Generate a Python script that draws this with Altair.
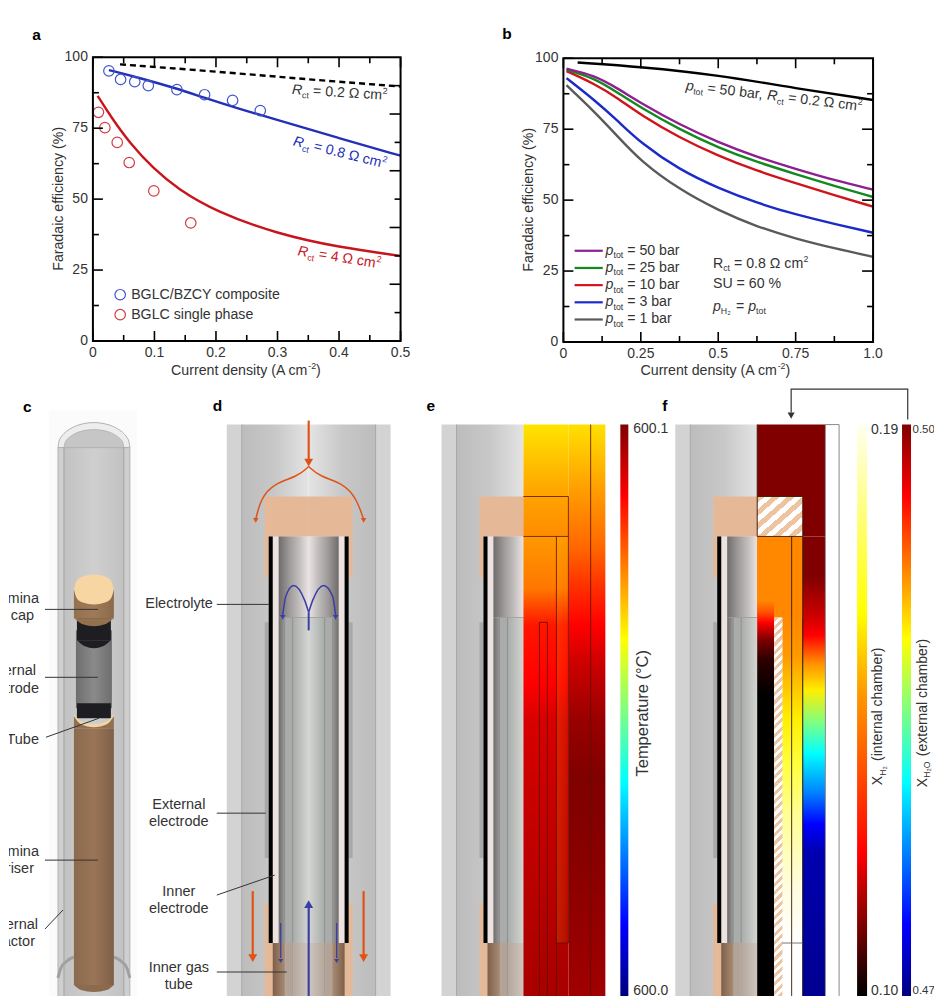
import math
import altair as alt
import pandas as pd

FONT = "Liberation Sans"
INK = "#333333"

# ---------- panel a ----------
a_blue_x = [.026, .045, .068, .090, .1365, .1815, .227, .272]
a_blue_y = [95.2, 92.2, 91.4, 90.0, 88.6, 86.8, 84.8, 81.2]
a_red_x = [.009, .0195, .0395, .059, .099, .159]
a_red_y = [80.6, 75.2, 70.0, 62.9, 52.9, 41.6]
a_line_blue_x = [.026, .068, .1365, .18, .23, .3, .4, .5]
a_line_blue_y = [95.5, 93.2, 89.0, 85.8, 82.3, 77.9, 71.5, 65.3]
a_line_black_x = [.044, .2, .35, .5]
a_line_black_y = [97.5, 95.0, 92.2, 89.7]
a_line_red_x = [.0076, .03, .059, .099, .138, .2, .3, .4, .5]
a_line_red_y = [86.4, 78.8, 70.0, 60.6, 53.6, 45.6, 37.7, 33.0, 30.0]
a_x_ticks = [0, .1, .2, .3, .4, .5]
a_x_labels = ["0", "0.1", "0.2", "0.3", "0.4", "0.5"]

# ---------- panel b ----------
b_x = [.01, .1, .175, .25, .375, .5, .625, .75, .875, 1.0]
b_purple = [96.3, 94.0, 89.4, 84.2, 76.6, 70.4, 65.2, 61.0, 57.0, 53.7]
b_green = [96.0, 93.0, 87.9, 82.6, 74.9, 68.5, 63.4, 59.2, 55.0, 51.1]
b_red = [95.5, 91.0, 86.0, 80.0, 72.0, 65.6, 60.3, 56.0, 51.7, 47.7]
b_blue = [93.0, 85.3, 78.0, 70.1, 60.7, 54.2, 49.0, 44.9, 41.6, 38.5]
b_grey = [90.5, 81.2, 72.5, 63.7, 53.7, 46.4, 40.6, 36.4, 33.0, 30.0]
b_black_x = [.046, .25, .5, .75, 1.0]
b_black_y = [98.5, 97.0, 94.1, 89.4, 85.3]
b_legend = ["50", "25", "10", "3", "1"]
b_x_ticks = [0, .25, .5, .75, 1]
b_x_labels = ["0", "0.25", "0.5", "0.75", "1.0"]
y_ticks = [0, 25, 50, 75, 100]
y_labels = ["0", "25", "50", "75", "100"]

# ---------- heat-map columns: (page y, colour) ----------
e_inner_y = [536, 588, 625, 682, 720, 778, 996]
e_inner_c = ["#ff9900", "#ff7700", "#ff1500", "#ff0000", "#d80000", "#cc0000", "#a80000"]
e_top_y = [424, 491, 536]
e_top_c = ["#ffe400", "#ffa500", "#ff8c00"]
e_outer_y = [424, 491, 548, 586, 625, 663, 720, 778, 854, 996]
e_outer_c = ["#ffe000", "#ff9c00", "#ff6600", "#ff3000", "#ff0000", "#cc0000", "#990000", "#800000", "#880000", "#a00000"]
f_a_y = [536, 600, 612, 622, 640, 660, 695, 996]
f_a_c = ["#ff8800", "#ff8800", "#ff5000", "#ff0000", "#7a0000", "#2a0000", "#000000", "#000000"]
f_c_y = [536, 617, 655, 682, 718, 765, 812, 890, 943]
f_c_c = ["#ff8800", "#ff8800", "#ff9900", "#ffc000", "#ffee00", "#ffff40", "#ffff90", "#fffde0", "#ffffff"]
f_o_y = [536, 576, 615, 635, 663, 690, 722, 753, 793, 824, 852, 996]
f_o_c = ["#800000", "#800000", "#cc0000", "#ff0000", "#ff9000", "#ffee00", "#80ff80", "#00ffff", "#0080ff", "#0000ff", "#0000b0", "#000090"]
jet_o = [0, .125, .375, .625, .875, 1]
jet_c = ["#800000", "#ff0000", "#ffff00", "#00ffff", "#0000ff", "#000080"]
hot_o = [0, .13, .33, .47, .75, .97, 1]
hot_c = ["#fffff0", "#ffff90", "#ffff00", "#ff9900", "#ff0000", "#1a0000", "#000000"]

# ---------- page geometry ----------
A_OX, A_OY, A_W, A_H = 91.7, 57.3, 308, 284
B_OX, B_OY, B_W, B_H = 562.3, 58.3, 310, 284
C_X0, C_Y0, C_W, C_H = 8, 343, 926, 653
PAD_TOP = 17.8
GAP_TOP = 286.7

ONE = pd.DataFrame({"k": [0]})
W = {"R": .722, "c": .5, "t": .278, " ": .278, "=": .584, ".": .278, "Ω": .768, "m": .833,
     "b": .556, "a": .556, "r": .333, ",": .278, "o": .556, "p": .556, "H": .722, "S": .667,
     "U": .722, "%": .889, "X": .667, "O": .778, "(": .333, ")": .333, "e": .556, "n": .556,
     "i": .222, "l": .222, "h": .556, "x": .5, "C": .722, "u": .556, "d": .556, "s": .5, "y": .5,
     "A": .667, "-": .333}


def tw(s, size):
    return sum(W.get(ch, .556) for ch in s) * size


def text_at(x, y, s, size=14.2, color=INK, angle=0, align="left", weight="normal", style="normal",
            clip=False, baseline="middle"):
    return alt.Chart(ONE).mark_text(text=s, font=FONT, fontSize=size, color=color, angle=angle % 360,
                                    align=align, baseline=baseline, fontWeight=weight, fontStyle=style,
                                    clip=clip).encode(x=alt.value(x), y=alt.value(y))


def run(x, y, angle, pieces, size=14.2, color=INK):
    """Horizontal or rotated label made of normal, italic, sub and superscript pieces."""
    out = []
    rad = math.radians(angle)
    adv = 0.0
    for s, kind in pieces:
        sz = size * .62 if kind in ("sub", "sup") else size
        dy = {"sub": size * .32, "sup": -size * .34}.get(kind, 0)
        lead = len(s) - len(s.lstrip(" "))
        adv += tw(" " * lead, sz)
        body = s.strip(" ")
        px = x + adv * math.cos(rad) - dy * math.sin(rad)
        py = y + adv * math.sin(rad) + dy * math.cos(rad)
        out.append(text_at(px, py, body, sz, color, angle, style="italic" if kind == "i" else "normal"))
        adv += tw(s.lstrip(" "), sz)
    return out


# ---------- chart panels ----------
AX = alt.Scale(domain=[0, .5], nice=False, zero=False)
AYS = alt.Scale(domain=[0, 100], nice=False, zero=False)
BX = alt.Scale(domain=[0, 1], nice=False, zero=False)


def panel(xs, ys, xt_major, xl, xt_minor, yl_major, yl_minor, yr_major, yr_minor, w, h, layers):
    frame = alt.Chart(pd.DataFrame({"x": [xs.domain[0]], "x2": [xs.domain[1]], "y": [0], "y2": [100]})).mark_rect(
        filled=False, stroke="black", strokeWidth=2, opacity=1).encode(
        x=alt.X("x:Q", scale=xs, axis=None), x2="x2:Q", y=alt.Y("y:Q", scale=ys, axis=None), y2="y2:Q")
    ticks = []
    for vals, ln in ((xt_major, 10), (xt_minor, 6)):
        d = pd.DataFrame({"v": vals})
        for y0, y1 in ((h, h - ln), (0, ln)):
            ticks.append(alt.Chart(d).mark_rule(color="black", strokeWidth=1.6, opacity=1).encode(
                x=alt.X("v:Q", scale=xs, axis=None), y=alt.value(y0), y2=alt.value(y1)))
    for vals, ln, x0, sgn in ((yl_major, 10, 0, 1), (yl_minor, 6, 0, 1), (yr_major, 11, w, -1), (yr_minor, 6, w, -1)):
        ticks.append(alt.Chart(pd.DataFrame({"v": vals})).mark_rule(color="black", strokeWidth=1.6, opacity=1).encode(
            y=alt.Y("v:Q", scale=ys, axis=None), x=alt.value(x0), x2=alt.value(x0 + sgn * ln)))
    ticks.append(alt.Chart(pd.DataFrame({"v": xt_major, "t": xl})).mark_text(
        font=FONT, fontSize=14, color=INK, align="center", baseline="middle").encode(
        x=alt.X("v:Q", scale=xs, axis=None), y=alt.value(h + 12.5), text="t:N"))
    ticks.append(alt.Chart(pd.DataFrame({"v": y_ticks, "t": y_labels})).mark_text(
        font=FONT, fontSize=14, color=INK, align="right", baseline="middle").encode(
        y=alt.Y("v:Q", scale=ys, axis=None), x=alt.value(-5), text="t:N"))
    return alt.layer(*layers, frame, *ticks).properties(width=w, height=h)


def curve(xs_vals, ys_vals, xs, ys, color, dash=None, width=2.4):
    d = pd.DataFrame({"x": xs_vals, "y": ys_vals, "i": range(len(xs_vals))})
    kw = {"strokeDash": dash} if dash else {}
    return alt.Chart(d).mark_line(color=color, strokeWidth=width, interpolate="basis", clip=True, **kw).encode(
        x=alt.X("x:Q", scale=xs, axis=None), y=alt.Y("y:Q", scale=ys, axis=None), order="i:Q")


def circles(xv, yv, xs, ys, color):
    return alt.Chart(pd.DataFrame({"x": xv, "y": yv})).mark_point(
        shape="circle", size=110, filled=False, stroke=color, strokeWidth=1.2, opacity=1).encode(
        x=alt.X("x:Q", scale=xs, axis=None), y=alt.Y("y:Q", scale=ys, axis=None))


BLUE, RED = "#2430b8", "#c8151c"
XTITLE = [("Current density (A cm", "n"), ("-2", "sup"), (")", "n")]
a_layers = [
    curve(a_line_black_x, a_line_black_y, AX, AYS, "black", dash=[6, 4]),
    curve(a_line_blue_x, a_line_blue_y, AX, AYS, BLUE),
    curve(a_line_red_x, a_line_red_y, AX, AYS, RED),
    circles(a_blue_x, a_blue_y, AX, AYS, "#3f55c9"),
    circles(a_red_x, a_red_y, AX, AYS, "#d23c42"),
    alt.Chart(ONE).mark_point(shape="circle", size=110, filled=False, stroke="#3f55c9", strokeWidth=1.2, opacity=1).encode(
        x=alt.value(119 - A_OX), y=alt.value(295 - A_OY)),
    alt.Chart(ONE).mark_point(shape="circle", size=110, filled=False, stroke="#d23c42", strokeWidth=1.2, opacity=1).encode(
        x=alt.value(119 - A_OX), y=alt.value(315 - A_OY)),
    text_at(130 - A_OX, 295 - A_OY, "BGLC/BZCY composite"),
    text_at(130 - A_OX, 315 - A_OY, "BGLC single phase"),
    text_at(31 - A_OX, 35 - A_OY, "a", 15.5, "black", weight="bold"),
    text_at(58 - A_OX, 199 - A_OY, "Faradaic efficiency (%)", 14.2, INK, 270, "center"),
]
a_layers += run(170 - A_OX, 371 - A_OY, 0, XTITLE)
a_layers += run(291 - A_OX, 90 - A_OY, 3.5, [("R", "i"), ("ct", "sub"), (" = 0.2 Ω cm", "n"), ("2", "sup")])
a_layers += run(292.5 - A_OX, 141.5 - A_OY, 14, [("R", "i"), ("ct", "sub"), (" = 0.8 Ω cm", "n"), ("2", "sup")], color=BLUE)
a_layers += run(297 - A_OX, 251.5 - A_OY, 9, [("R", "i"), ("ct", "sub"), (" = 4 Ω cm", "n"), ("2", "sup")], color=RED)
panel_a = panel(AX, AYS, a_x_ticks, a_x_labels, [.05, .15, .25, .35, .45], y_ticks, [12.5, 37.5, 62.5, 87.5],
                [20, 40, 60, 80], [10, 30, 50, 70, 90], A_W, A_H, a_layers)

b_colors = ["#8e1f91", "#128a1e", "#d0141c", "#1c2bc8", "#5a5a5a"]
b_layers = [curve(b_black_x, b_black_y, BX, AYS, "black")]
for series, c in zip((b_grey, b_blue, b_red, b_green, b_purple), reversed(b_colors)):
    b_layers.append(curve(b_x, series, BX, AYS, c))
for i, (lab, c) in enumerate(zip(b_legend, b_colors)):
    yy = 251 + i * 17.2 - B_OY
    b_layers.append(alt.Chart(ONE).mark_rule(color=c, strokeWidth=2.2).encode(
        x=alt.value(573.5 - B_OX), x2=alt.value(601.7 - B_OX), y=alt.value(yy)))
    b_layers += run(604.5 - B_OX, yy, 0, [("p", "i"), ("tot", "sub"), (" = " + lab + " bar", "n")])
b_layers += run(712 - B_OX, 264 - B_OY, 0, [("R", "n"), ("ct", "sub"), (" = 0.8 Ω cm", "n"), ("2", "sup")])
b_layers += run(712 - B_OX, 284 - B_OY, 0, [("SU = 60 %", "n")])
b_layers += run(712 - B_OX, 307 - B_OY, 0, [("p", "i"), ("H₂", "sub"), (" = ", "n"), ("p", "i"), ("tot", "sub")])
b_layers += run(685 - B_OX, 86 - B_OY, 6.8, [("p", "i"), ("tot", "sub"), (" = 50 bar, ", "n"), ("R", "i"), ("ct", "sub"), (" = 0.2 Ω cm", "n"), ("2", "sup")])
b_layers.append(text_at(501 - B_OX, 34 - B_OY, "b", 15.5, "black", weight="bold"))
b_layers.append(text_at(528 - B_OX, 200 - B_OY, "Faradaic efficiency (%)", 14.2, INK, 270, "center"))
b_layers += run(639.5 - B_OX, 371 - B_OY, 0, XTITLE)
panel_b = panel(BX, AYS, b_x_ticks, b_x_labels, [.125, .375, .625, .875], y_ticks, [12.5, 37.5, 62.5, 87.5],
                [25, 50, 75], [12.5, 37.5, 62.5, 87.5], B_W, B_H, b_layers)

# ---------- schematic canvas ----------
CXS = alt.Scale(domain=[C_X0, C_X0 + C_W], range=[0, C_W], nice=False, zero=False)
CYS = alt.Scale(domain=[C_Y0, C_Y0 + C_H], range=[0, C_H], nice=False, zero=False)
L = []


def enc_rect(x1, x2, y1, y2):
    return alt.Chart(pd.DataFrame({"x": [x1], "x2": [x2], "y": [y1], "y2": [y2]})), dict(
        x=alt.X("x:Q", scale=CXS, axis=None), x2="x2:Q", y=alt.Y("y:Q", scale=CYS, axis=None), y2="y2:Q")


def rect(x1, x2, y1, y2, fill):
    c, e = enc_rect(x1, x2, y1, y2)
    L.append(c.mark_rect(fill=fill, clip=True).encode(**e))


def grad(stops, vertical=False):
    return alt.LinearGradient(gradient="linear", x1=0, y1=0, x2=0 if vertical else 1, y2=1 if vertical else 0,
                              stops=[alt.GradientStop(offset=o, color=c) for o, c in stops])


def hgrad(x1, x2, y1, y2, colors):
    n = len(colors) - 1
    rect(x1, x2, y1, y2, grad([(i / n, c) for i, c in enumerate(colors)]))


def vgrad(x1, x2, y1, y2, ys, cols):
    rect(x1, x2, y1, y2, grad([(max(0, min(1, (v - y1) / (y2 - y1))), c) for v, c in zip(ys, cols)], True))


def seg(x1, y1, x2, y2, color=INK, w=1.0):
    d = pd.DataFrame({"x": [x1], "x2": [x2], "y": [y1], "y2": [y2]})
    L.append(alt.Chart(d).mark_rule(color=color, strokeWidth=w).encode(
        x=alt.X("x:Q", scale=CXS, axis=None), x2="x2:Q", y=alt.Y("y:Q", scale=CYS, axis=None), y2="y2:Q"))


def poly(xs_, ys_, color, w=1.5, interp="linear"):
    d = pd.DataFrame({"x": xs_, "y": ys_, "i": range(len(xs_))})
    L.append(alt.Chart(d).mark_line(color=color, strokeWidth=w, interpolate=interp).encode(
        x=alt.X("x:Q", scale=CXS, axis=None), y=alt.Y("y:Q", scale=CYS, axis=None), order="i:Q"))


def area(xs_, ys_, y2s, fill, stroke=None, w=.8):
    d = pd.DataFrame({"x": xs_, "y": ys_, "y2": y2s})
    kw = {"stroke": stroke, "strokeWidth": w} if stroke else {}
    L.append(alt.Chart(d).mark_area(color=fill, interpolate="monotone", **kw).encode(
        x=alt.X("x:Q", scale=CXS, axis=None), y=alt.Y("y:Q", scale=CYS, axis=None), y2="y2:Q"))


def head(x, y, color, size=60, angle=180):
    d = pd.DataFrame({"x": [x], "y": [y]})
    L.append(alt.Chart(d).mark_point(shape="triangle-up", filled=True, size=size, color=color, opacity=1, angle=angle).encode(
        x=alt.X("x:Q", scale=CXS, axis=None), y=alt.Y("y:Q", scale=CYS, axis=None)))


def ct(x, y, s, size=14.5, align="center", color=INK, angle=0, weight="normal", clip=False):
    L.append(text_at(x - C_X0, y - C_Y0, s, size, color, angle, align, weight, clip=clip))


def half_schematic(off, mirror=False):
    def mx(a, b):
        return (616 - b + off, 616 - a + off) if mirror else (a + off, b + off)

    def r(a, b, y1, y2, fill):
        u, v = mx(a, b)
        rect(u, v, y1, y2, fill)

    def g(a, b, y1, y2, cols):
        u, v = mx(a, b)
        hgrad(u, v, y1, y2, list(reversed(cols)) if mirror else cols)

    r(226, 241, 424, 996, "#d3d3d3")
    g(241, 308, 424, 996, ["#bcbcbc", "#c8c8c8", "#e4e4e4"])
    r(240.5, 241.5, 424, 996, "#a8a8a8")
    r(264, 308.3, 496, 536, "#e5b998")
    r(264, 268, 536, 577, "#e5b998")
    r(264, 268, 622, 858, "#a9a9a9")
    r(264, 268, 903, 996, "#e5b998")
    r(268, 272, 943, 996, "#e5b998")
    r(272, 278, 536, 943, "#ece2e0")
    r(268, 272, 536, 943, "#000000")
    g(278, 308.3, 536, 617, ["#6f6b6b", "#9c9898", "#c0bcbc", "#ece4e4"])
    g(278, 284, 617, 943, ["#6f6c6a", "#9a9a98"])
    r(284, 292, 617, 943, "#a9acaa")
    g(292, 308.3, 617, 943, ["#a8aca9", "#d4d6d2"])
    r(283.6, 284.4, 617, 996, "#888888")
    r(291.6, 292.4, 617, 996, "#888888")
    r(284, 308.3, 616.6, 617.4, "#999999")
    g(272, 284, 943, 996, ["#7f5f48", "#a88a72"])
    r(284.4, 291.6, 943, 996, "#b3a396")
    g(292.4, 308.3, 943, 996, ["#b5a79c", "#cfc6be"])


# panel c
rect(48, 136, 410, 996, "#fbfbfb")
rect(57, 129, 447, 996, "#cfcfcf")
hgrad(63, 123, 447, 996, ["#c2c2c2", "#cfcfcf", "#c2c2c2"])
dome_outer_x = [57, 58, 60, 63, 69, 78, 93, 108, 117, 123, 126, 128, 129]
dome_outer_y = [447, 441, 436.7, 433, 428.4, 424.3, 422, 424.3, 428.4, 433, 436.7, 441, 447]
dome_inner_x = [63, 64, 66, 70, 78, 93, 108, 116, 120, 122, 123]
dome_inner_y = [447, 442.4, 439, 435.6, 431.4, 429, 431.4, 435.6, 439, 442.4, 447]
area(dome_outer_x, dome_outer_y, [447] * len(dome_outer_x), "#ededed", "#a0a0a0")
area(dome_inner_x, dome_inner_y, [447] * len(dome_inner_x), "#c6c6c6", "#b0b0b0")
seg(57, 447, 57, 996, "#a8a8a8", .8)
seg(63, 447, 63, 996, "#9a9a9a", .8)
seg(123, 447, 123, 996, "#9a9a9a", .8)
seg(129, 447, 129, 996, "#a8a8a8", .8)
poly([57, 60, 66, 73], [978, 968, 961, 957], "#a0a0a0", 3, "monotone")
poly([129, 126, 120, 113], [978, 968, 961, 957], "#a0a0a0", 3, "monotone")
hgrad(75, 111, 630, 708, ["#6e6e6e", "#8a8a8a", "#6e6e6e"])
rect(76, 110, 618, 640, "#1d1d22")
rect(76, 110, 703, 718, "#1d1d22")
area([76, 84, 93, 102, 110], [640, 640, 640, 640, 640], [640, 646, 648, 646, 640], "#1d1d22")
hgrad(73, 113, 589, 618, ["#93714f", "#a07a58", "#8a6a4c"])
area([73, 82, 93, 104, 113], [618, 618, 618, 618, 618], [618, 624, 626, 624, 618], "#93714f")
area([73, 76, 82, 93, 104, 110, 113], [589, 580, 576, 574, 576, 580, 589], [589, 598, 602, 604, 602, 598, 589], "#f7d6a4")
area([73, 80, 93, 106, 113], [714, 721, 724, 721, 714], [716, 724, 728, 724, 716], "#f2d5a2")
hgrad(73, 113, 728, 985, ["#8b6a4e", "#9a7557", "#7f6048"])
area([73, 80, 93, 106, 113], [716, 724, 727, 724, 716], [728, 728, 728, 728, 728], "#93714f")
area([73, 80, 93, 106, 113], [985, 985, 985, 985, 985], [985, 990, 992, 990, 985], "#8b6a4e")
seg(44, 609, 97, 609); seg(44, 677, 97, 677); seg(45, 737, 98, 718); seg(44, 860, 97, 860); seg(44, 929, 62, 910)
for x_, y_, s in ((38, 599, "Alumina"), (33, 616, "cap"), (35, 671, "External"), (38, 689, "electrode"), (38, 740, "Tube"),
                  (38, 852, "Alumina"), (33, 869, "riser"), (37, 925, "External"), (34, 942, "reactor")):
    ct(x_, y_, s, align="right", clip=True)
ct(22, 406, "c", 15.5, "left", "black", weight="bold")
ct(212, 405, "d", 15.5, "left", "black", weight="bold")
ct(426, 405, "e", 15.5, "left", "black", weight="bold")
ct(662, 405, "f", 15.5, "left", "black", weight="bold")

# panel d
half_schematic(0)
half_schematic(0, mirror=True)
ORANGE, PURPLE = "#df5316", "#3a3fa6"
seg(308, 420, 308, 462, ORANGE, 2.2)
head(308, 462, ORANGE, 80)
poly([308, 297, 273, 260, 255], [466, 476, 483, 498, 519], ORANGE, 1.5, "basis")
poly([308, 319, 343, 356, 363], [466, 476, 483, 498, 519], ORANGE, 1.5, "basis")
head(255, 520, ORANGE, 30)
head(363, 520, ORANGE, 30)
seg(252, 891, 252, 955, ORANGE, 2.2); head(252, 958, ORANGE, 80)
seg(363, 891, 363, 955, ORANGE, 2.2); head(363, 958, ORANGE, 80)
seg(308, 630, 308, 612, PURPLE, 2)
poly([308, 304, 293, 285, 282], [612, 600, 585, 596, 615], PURPLE, 1.5, "monotone")
poly([308, 312, 323, 332, 335], [612, 600, 585, 596, 615], PURPLE, 1.5, "monotone")
head(282, 617, PURPLE, 30)
head(335, 617, PURPLE, 30)
seg(308, 996, 308, 906, PURPLE, 2.2); head(308, 904, PURPLE, 80, 0)
seg(280, 923, 280, 958, PURPLE, 1.3); head(280, 961, PURPLE, 24)
seg(336, 923, 336, 958, PURPLE, 1.3); head(336, 961, PURPLE, 24)
seg(216, 604, 268, 604); seg(216, 813, 265, 813); seg(216, 895, 274, 875); seg(216, 972, 286, 972)
ct(212, 604, "Electrolyte", align="right")
ct(178, 805, "External"); ct(178, 822, "electrode")
ct(178, 892, "Inner"); ct(178, 909, "electrode")
ct(178, 968, "Inner gas"); ct(178, 985, "tube")

# panel e
half_schematic(215)
vgrad(523, 568, 424, 536, e_top_y, e_top_c)
vgrad(523, 568, 536, 996, e_inner_y, e_inner_c)
vgrad(568, 605, 424, 996, e_outer_y, e_outer_c)
hgrad(556, 568, 536, 943, ["#ffb00030", "#ffb00010"])
for p in ((590.3, 424, 590.3, 996), (568, 496, 568, 943), (523, 496, 568, 496), (523, 536, 568, 536), (556, 536, 556, 996),
          (556, 943, 568, 943), (539, 622, 539, 996), (547, 622, 547, 996), (539, 622, 547, 622)):
    seg(*p, color="#5a1000", w=.8)
vgrad(620, 628, 424, 996, [424 + 572 * o for o in jet_o], jet_c)
ct(633, 428, "600.1", 14, align="left")
ct(633, 991, "600.0", 14, align="left")
ct(643, 713, "Temperature (°C)", 16.5, "center", angle=270)

# panel f
half_schematic(449)
rect(757, 825, 424, 536, "#800000")
rect(757, 803, 536, 617, "#ff8800")
vgrad(757, 774, 536, 996, f_a_y, f_a_c)
vgrad(782, 791.5, 536, 943, f_c_y, f_c_c)
vgrad(791.5, 802.6, 536, 943, f_c_y, f_c_c)
rect(782, 802.6, 943, 996, "#ffffff")
vgrad(802.6, 825, 536, 996, f_o_y, f_o_c)
rect(825, 839, 424, 996, "#ffffff")


def hatch(n):
    stops = []
    for k in range(n):
        stops += [(k / n, "#eec4a0"), ((k + .5) / n, "#eec4a0"), ((k + .5) / n, "#ffffff"), ((k + 1) / n, "#ffffff")]
    return alt.LinearGradient(gradient="linear", x1=0, y1=0, x2=1, y2=1,
                              stops=[alt.GradientStop(offset=o, color=c) for o, c in stops])


tiles = pd.DataFrame({"y": [617.5 + 8.3 * i for i in range(46)]})
tiles["y2"] = tiles["y"] + 8.3
tiles["x"] = 774
tiles["x2"] = 782.3
rect(757, 802.6, 496, 536, hatch(6))
L.append(alt.Chart(tiles).mark_rect(fill=hatch(2), clip=True).encode(
    x=alt.X("x:Q", scale=CXS, axis=None), x2="x2:Q", y=alt.Y("y:Q", scale=CYS, axis=None), y2="y2:Q"))
for p in ((757, 496, 802.6, 496), (757, 536, 802.6, 536), (802.6, 496, 802.6, 617), (757, 424, 757, 536), (791.5, 536, 791.5, 996)):
    seg(*p, color="#3a1a00", w=.9)
seg(802.6, 617, 802.6, 996, "#111111", 1)
seg(782, 943, 802.6, 943, "#555555", .8)
seg(825.3, 424, 825.3, 996, "#8a8a8a", 1)
seg(839, 424, 839, 996, "#8a8a8a", 1)
seg(825, 424, 839, 424, "#8a8a8a", 1)
vgrad(857, 867, 424, 996, [424 + 572 * o for o in hot_o], hot_c)
vgrad(902, 911, 424, 996, [424 + 572 * o for o in jet_o], jet_c)
ct(871, 429, "0.19", 14, align="left"); ct(871, 991, "0.10", 14, align="left")
ct(912.5, 429, "0.50", 11.5, "left", clip=True); ct(912.5, 991, "0.47", 11.5, "left", clip=True)
poly([907.7, 907.7, 791, 791], [419, 388.6, 388.6, 412], "#333333", 1.2)
head(791, 415, "#333333", 50)
L += run(878 - C_X0, 785 - C_Y0, -90, [("X", "n"), ("H₂", "sub"), (" (internal chamber)", "n")], 14)
L += run(923 - C_X0, 787 - C_Y0, -90, [("X", "n"), ("H₂O", "sub"), (" (external chamber)", "n")], 14)

canvas = alt.layer(*L).properties(width=C_W, height=C_H)


def spacer(w, h):
    return alt.Chart(ONE).mark_point(opacity=0, size=1).encode(x=alt.value(0), y=alt.value(0)).properties(width=w, height=h)


panel_b_wrap = alt.vconcat(spacer(B_W, 1), panel_b, spacing=0, bounds="flush")
top = alt.hconcat(spacer(A_OX - 8, A_H), panel_a, spacer(B_OX - A_OX - A_W, A_H), panel_b_wrap, spacing=0, bounds="flush")
chart = alt.vconcat(top, canvas, spacing=GAP_TOP, bounds="flush").properties(
    padding={"left": 0, "top": PAD_TOP, "right": 0, "bottom": 0}
).configure_view(stroke=None)
chart.save("out.html", embed_options={"renderer": "svg", "actions": False})
